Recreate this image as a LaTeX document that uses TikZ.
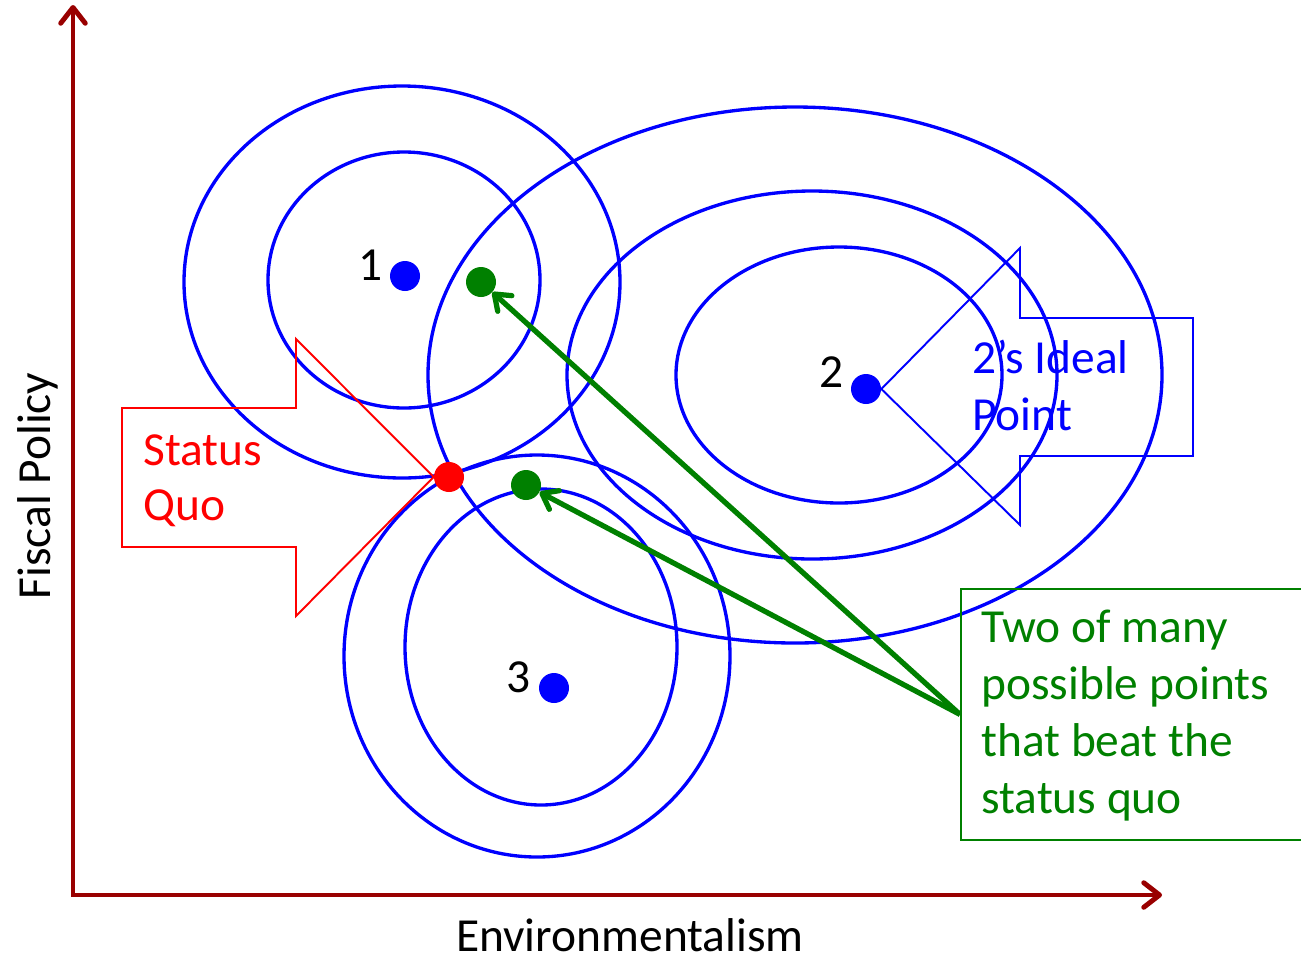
\documentclass[tikz,border=0pt]{standalone}
\usepackage{fontspec}
\setmainfont{Carlito}
\usetikzlibrary{arrows.meta}
\definecolor{axisred}{RGB}{153,0,0}
\definecolor{dgreen}{RGB}{0,128,0}
\begin{document}
\begin{tikzpicture}[x=0.02cm,y=-0.02cm,
  pref/.style={blue, line width=1.9pt},
  dot/.style={circle, fill, inner sep=0pt, minimum size=0.6cm},
  axisline/.style={axisred, line width=2.8pt, {Straight Barb[round,length=9pt,width=14pt]}-{Straight Barb[round,length=9pt,width=14pt]}},
  garrow/.style={dgreen, line width=3pt, -{Straight Barb[round,length=8pt,width=12pt]}},
  lbl/.style={font=\fontsize{27}{32}\selectfont, inner sep=0pt},
  callout/.style={line width=1.1pt, line join=miter}]
\useasboundingbox (0,0) rectangle (1301,958);

% axes
\coordinate (O) at (73,895);
\coordinate (ytop) at (73,5);
\coordinate (xend) at (1162,895);
\draw[axisline] (ytop) -- (O) -- (xend);
\node[lbl, rotate=90] (ylab) at (38,486) {Fiscal Policy};
\node[lbl, anchor=base] (xlab) at (630,951) {Environmentalism};

% preference ellipses
\draw[pref] (402,282) ellipse [x radius=218, y radius=196];
\draw[pref] (404,280) ellipse [x radius=136, y radius=128];
\draw[pref] (795,375) ellipse [x radius=367, y radius=268];
\draw[pref] (812,375) ellipse [x radius=245, y radius=184];
\draw[pref] (839,375) ellipse [x radius=163, y radius=128];
\draw[pref] (537,656) ellipse [x radius=193, y radius=201];
\draw[pref] (541,647) ellipse [x radius=136, y radius=158];

% ideal points and status quo
\node[dot, blue] (p1) at (405,276) {};
\node[dot, blue] (p2) at (866,389) {};
\node[dot, blue] (p3) at (554,688) {};
\node[dot, red] (sq) at (449,477) {};
\node[dot, dgreen] (g1) at (481,282) {};
\node[dot, dgreen] (g2) at (526,485) {};

\node[lbl, anchor=base east] (l1) at (383,280) {1};
\node[lbl, anchor=base east] (l2) at (844,387) {2};
\node[lbl, anchor=base east] (l3) at (531,692) {3};

% status quo callout
\draw[callout, red] (122,408) -- (296,408) -- (296,339) -- (sq.west) -- (296,616) -- (296,547) -- (122,547) -- cycle;
\node[lbl, red, anchor=base west] (sq1) at (143,465) {Status};
\node[lbl, red, anchor=base west] (sq2) at (143,520) {Quo};

% ideal point callout
\draw[callout, blue] (1193,318) -- (1020,318) -- (1020,248) -- (p2.east) -- (1020,525) -- (1020,456) -- (1193,456) -- cycle;
\node[lbl, blue, anchor=base west] (ip1) at (972,373) {2’s Ideal};
\node[lbl, blue, anchor=base west] (ip2) at (972,430) {Point};

% green box
\node[draw=dgreen, line width=1.1pt, anchor=north west, minimum width=8cm, minimum height=5.02cm, inner sep=0pt] (box) at (960,588) {};
\node[lbl, dgreen, anchor=base west] (t1) at (981,642) {Two of many};
\node[lbl, dgreen, anchor=base west] (t2) at (981,699) {possible points};
\node[lbl, dgreen, anchor=base west] (t3) at (981,756) {that beat the};
\node[lbl, dgreen, anchor=base west] (t4) at (981,813) {status quo};

\draw[garrow] (box.west) -- (g1);
\draw[garrow] (box.west) -- (g2);
\end{tikzpicture}
\end{document}
